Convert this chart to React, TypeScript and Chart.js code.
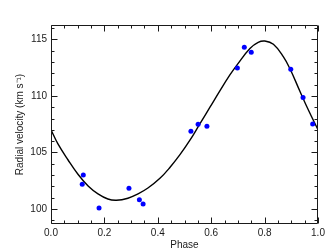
import React, { useEffect, useRef } from 'react';
import { Chart, registerables } from 'chart.js';
Chart.register(...registerables);

const obsPhase = [0.117, 0.121, 0.18, 0.292, 0.331, 0.345, 0.524, 0.551, 0.584, 0.698, 0.724, 0.75, 0.898, 0.944, 0.98];
const obsRV = [102.18, 103.0, 100.09, 101.83, 100.82, 100.44, 106.87, 107.49, 107.31, 112.47, 114.3, 113.85, 112.35, 109.85, 107.51];

const modelPhase = [0, 0.026, 0.064, 0.101, 0.139, 0.176, 0.213, 0.245, 0.288, 0.326, 0.363, 0.408, 0.446, 0.483, 0.521, 0.558, 0.596, 0.633, 0.67, 0.701, 0.745, 0.776, 0.801, 0.833, 0.87, 0.895, 0.933, 0.964, 1.0];
const modelRV = [107.0, 105.75, 104.33, 103.07, 102.03, 101.33, 100.88, 100.77, 100.95, 101.33, 101.85, 102.71, 103.69, 104.8, 106.1, 107.55, 109.02, 110.46, 111.85, 112.88, 114.2, 114.74, 114.85, 114.56, 113.47, 112.4, 110.37, 108.75, 107.0];

const xTickValues = [0, 0.2, 0.4, 0.6, 0.8, 1.0];
const yTickValues = [100, 105, 110, 115];
const xRange = [0, 1];
const yRange = [98.67, 116.27];

const FONT = 'Arial, "Liberation Sans", Helvetica, sans-serif';
const INK = '#1a1a1a';

const frameTicks = {
  id: 'frameTicks',
  afterDraw(chart: any) {
    const { ctx, chartArea: a, scales } = chart;
    const x = scales.x;
    const y = scales.y;
    const L = Math.round(a.left) + 0.5;
    const R = Math.round(a.right) - 0.5;
    const T = Math.round(a.top) + 0.5;
    const B = Math.round(a.bottom) - 0.5;
    ctx.save();
    ctx.strokeStyle = INK;
    ctx.lineWidth = 1;
    ctx.beginPath();
    ctx.rect(L, T, R - L, B - T);
    for (let i = 0; i <= 20; i++) {
      const v = i / 20;
      const px = Math.round(x.getPixelForValue(v)) + 0.5;
      const len = i % 4 === 0 ? 6 : 3;
      ctx.moveTo(px, B);
      ctx.lineTo(px, B - len);
      ctx.moveTo(px, T);
      ctx.lineTo(px, T + len);
    }
    for (let v = 99; v <= 116; v++) {
      const py = Math.round(y.getPixelForValue(v)) + 0.5;
      const len = v % 5 === 0 ? 6 : 3;
      ctx.moveTo(L, py);
      ctx.lineTo(L + len, py);
      ctx.moveTo(R, py);
      ctx.lineTo(R - len, py);
    }
    ctx.stroke();
    ctx.restore();
  },
};

export default function App() {
  const ref = useRef<HTMLCanvasElement | null>(null);
  useEffect(() => {
    if (!ref.current) return;
    const chart = new Chart(ref.current, {
      type: 'scatter',
      data: {
        datasets: [
          {
            label: 'Observed',
            data: obsPhase.map((p, i) => ({ x: p, y: obsRV[i] })),
            backgroundColor: '#0000ff',
            borderWidth: 0,
            pointRadius: 2.5,
            showLine: false,
            order: 0,
          },
          {
            label: 'Model',
            data: modelPhase.map((p, i) => ({ x: p, y: modelRV[i] })),
            borderColor: '#000000',
            borderWidth: 1.4,
            pointRadius: 0,
            showLine: true,
            tension: 0.4,
            order: 1,
          },
        ],
      },
      options: {
        animation: false,
        responsive: false,
        layout: { padding: { left: 0, right: 13, top: 25, bottom: 1 } },
        plugins: { legend: { display: false }, tooltip: { enabled: false } },
        scales: {
          x: {
            type: 'linear',
            min: xRange[0],
            max: xRange[1],
            grid: { display: false, drawTicks: false },
            border: { display: false },
            afterBuildTicks: (s: any) => {
              s.ticks = xTickValues.map((v) => ({ value: v }));
            },
            afterFit: (s: any) => {
              s.height = 27;
            },
            ticks: {
              padding: 3,
              color: INK,
              font: { family: FONT, size: 10 },
              maxRotation: 0,
              autoSkip: false,
              callback: (v: any) => Number(v).toFixed(1),
            },
            title: {
              display: true,
              text: 'Phase',
              color: INK,
              font: { family: FONT, size: 10 },
              padding: { top: 0, bottom: 0 },
            },
          },
          y: {
            type: 'linear',
            min: yRange[0],
            max: yRange[1],
            grid: { display: false, drawTicks: false },
            border: { display: false },
            afterBuildTicks: (s: any) => {
              s.ticks = yTickValues.map((v) => ({ value: v }));
            },
            afterFit: (s: any) => {
              s.width = 51;
            },
            ticks: {
              padding: 4,
              color: INK,
              font: { family: FONT, size: 10 },
              autoSkip: false,
              callback: (v: any) => String(v),
            },
            title: {
              display: true,
              text: 'Radial velocity (km s⁻¹)',
              color: INK,
              font: { family: FONT, size: 10 },
              padding: { top: 14, bottom: 0 },
            },
          },
        },
      },
      plugins: [frameTicks],
    } as any);
    return () => chart.destroy();
  }, []);
  return (
    <div style={{ position: 'fixed', left: 0, top: 0, width: 331, height: 252, background: '#fff' }}>
      <canvas ref={ref} width={331} height={252} style={{ display: 'block', width: 331, height: 252 }} />
    </div>
  );
}
